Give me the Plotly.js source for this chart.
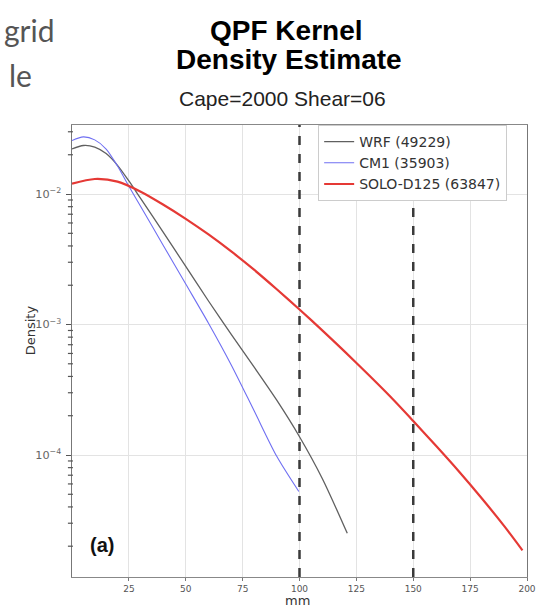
<!DOCTYPE html>
<html>
<head>
<meta charset="utf-8">
<script src="https://cdn.plot.ly/plotly-3.0.1.min.js"></script>
<style>html,body{margin:0;padding:0;background:#fff;}#chart{width:547px;height:614px;}</style>
</head>
<body>
<div id="chart"></div>
<script>
// ---- data (density values, log y-axis) ----
const wrfX = [0, 5, 10, 15, 20, 25, 30, 40, 50, 60, 70, 80, 90, 100, 110, 121];
const wrfY = [0.02213, 0.02355, 0.02291, 0.02042, 0.01660, 0.01259, 0.009333, 0.005129, 0.002786, 0.001514, 0.000841, 0.000473, 0.000263, 0.000138, 0.0000661, 0.0000251];

const cm1X = [0, 5, 10, 15, 20, 25, 30, 40, 50, 60, 70, 80, 90, 99.7];
const cm1Y = [0.0257, 0.02742, 0.0260, 0.02213, 0.01641, 0.01148, 0.008128, 0.004074, 0.002042, 0.001023, 0.00049, 0.000219, 0.0000977, 0.0000525];

const soloX = [0, 10, 20, 30, 40, 50, 60, 70, 80, 90, 100, 110, 120, 130, 140, 150, 160, 170, 180, 190, 198];
const soloY = [0.012023, 0.013032, 0.012445, 0.010471, 0.008318, 0.006457, 0.004898, 0.003631, 0.00263, 0.001862, 0.001303, 0.000902, 0.000617, 0.000417, 0.000279, 0.000182, 0.0001175, 0.000075, 0.0000468, 0.0000285, 0.0000186];

const seriesNames = ["WRF (49229)", "CM1 (35903)", "SOLO-D125 (63847)"];
const thresholds = [100, 150];
const xTicks = [25, 50, 75, 100, 125, 150, 175, 200];
const yLogRange = [-4.935, -1.471];

const traces = [
  {x: wrfX, y: wrfY, name: seriesNames[0], type: 'scatter', mode: 'lines',
   line: {color: '#606060', width: 1.3, shape: 'spline', smoothing: 0.8}},
  {x: cm1X, y: cm1Y, name: seriesNames[1], type: 'scatter', mode: 'lines',
   line: {color: '#6f6ff2', width: 1.1, shape: 'spline', smoothing: 0.8}},
  {x: soloX, y: soloY, name: seriesNames[2], type: 'scatter', mode: 'lines',
   line: {color: '#e53935', width: 2.2, shape: 'spline', smoothing: 0.8}}
];

const shapes = thresholds.map(v => ({
  type: 'line', xref: 'x', yref: 'paper', x0: v, x1: v, y0: 0, y1: 1,
  line: {color: '#3a3a3a', width: 2.5, dash: 'dash'}
}));

// minor log ticks on the left spine (2..9 x each decade), placed via axis fraction
for (let d = -5; d <= -2; d++) {
  for (let m = 2; m <= 9; m++) {
    const lv = Math.log10(m) + d;
    if (lv < yLogRange[0] || lv > yLogRange[1]) continue;
    const f = (lv - yLogRange[0]) / (yLogRange[1] - yLogRange[0]);
    shapes.push({type: 'line', layer: 'above', xref: 'paper', yref: 'paper',
                 x0: -0.009, x1: 0.002, y0: f, y1: f,
                 line: {color: '#555', width: 1.2}});
  }
}

const layout = {
  width: 547, height: 614,
  margin: {l: 72, r: 20, t: 125, b: 37},
  paper_bgcolor: '#fff', plot_bgcolor: '#fff',
  showlegend: true,
  legend: {x: 0.541, y: 1.0, xanchor: 'left', yanchor: 'top',
           bgcolor: '#fff', bordercolor: '#cccccc', borderwidth: 1,
           font: {family: 'DejaVu Sans', size: 14, color: '#333'}},
  xaxis: {range: [0, 200], tickvals: xTicks, ticks: 'outside', ticklen: 3, tickcolor: '#777',
          tickfont: {family: 'DejaVu Sans', size: 9, color: '#555'},
          showgrid: true, gridcolor: '#e3e3e3', zeroline: false,
          showline: true, mirror: true, linecolor: '#888', linewidth: 1},
  yaxis: {type: 'log', range: yLogRange, tick0: 0, dtick: 1, exponentformat: 'power',
          ticks: 'outside', ticklen: 5, tickcolor: '#555', ticklabelstandoff: 3,
          tickfont: {family: 'DejaVu Sans', size: 9, color: '#666'},
          showgrid: true, gridcolor: '#e3e3e3', zeroline: false,
          showline: true, mirror: true, linecolor: '#777', linewidth: 1},
  shapes: shapes,
  annotations: [
    {text: '<b>QPF Kernel</b>', xref: 'paper', yref: 'paper',
     x: 0.47, y: 1.21, xanchor: 'center', yanchor: 'middle', showarrow: false,
     font: {family: 'Liberation Sans', size: 28, color: '#000'}},
    {text: '<b>Density Estimate</b>', xref: 'paper', yref: 'paper',
     x: 0.478, y: 1.144, xanchor: 'center', yanchor: 'middle', showarrow: false,
     font: {family: 'Liberation Sans', size: 28, color: '#000'}},
    {text: 'Cape=2000 Shear=06', xref: 'paper', yref: 'paper',
     x: 0.462, y: 1.058, xanchor: 'center', yanchor: 'middle', showarrow: false,
     font: {family: 'Liberation Sans', size: 21, color: '#222'}},
    {text: 'grid', xref: 'paper', yref: 'paper', x: -0.154, y: 1.21,
     xanchor: 'left', yanchor: 'middle', showarrow: false,
     font: {family: 'Lato', size: 30, color: '#555'}},
    {text: 'le', xref: 'paper', yref: 'paper', x: -0.142, y: 1.11,
     xanchor: 'left', yanchor: 'middle', showarrow: false,
     font: {family: 'Lato', size: 30, color: '#555'}},
    {text: '<b>(a)</b>', xref: 'paper', yref: 'paper', x: 0.035, y: 0.07,
     xanchor: 'left', yanchor: 'middle', showarrow: false,
     font: {family: 'Liberation Sans', size: 20, color: '#111'}},
    {text: 'Density', xref: 'paper', yref: 'paper', x: -0.092, y: 0.546,
     xanchor: 'center', yanchor: 'middle', textangle: -90, showarrow: false,
     font: {family: 'DejaVu Sans', size: 13, color: '#333'}},
    {text: 'mm', xref: 'paper', yref: 'paper', x: 0.495, y: -0.053,
     xanchor: 'center', yanchor: 'middle', showarrow: false,
     font: {family: 'DejaVu Sans', size: 13, color: '#333'}}
  ]
};

Plotly.newPlot('chart', traces, layout, {displayModeBar: false, staticPlot: true});
</script>
</body>
</html>
